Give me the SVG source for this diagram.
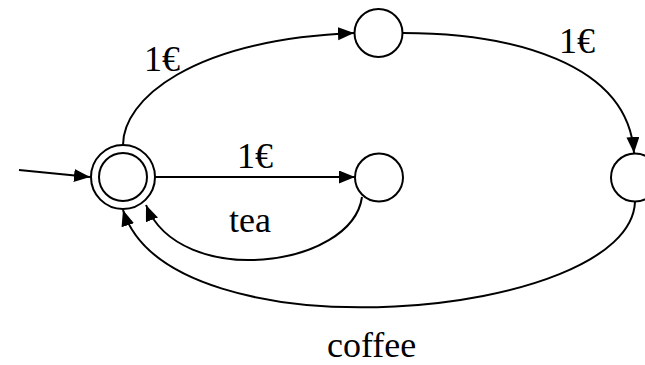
<svg xmlns="http://www.w3.org/2000/svg" width="645" height="365" viewBox="0 0 645 365">
<style>
.node{fill:#fff;stroke:#000;stroke-width:2}
.edge{fill:none;stroke:#000;stroke-width:2}
.lbl{font-family:'Liberation Serif','Times New Roman',serif;font-size:36px;fill:#000}
</style>
<defs>
<marker id="arr" markerUnits="userSpaceOnUse" markerWidth="17" markerHeight="14" refX="16" refY="6.5" orient="auto">
<path d="M0,0 L16,6.5 L0,13 z" fill="#000"/>
</marker>
</defs>
<g id="connectors">
<path class="edge" d="M19,170 L90,177" marker-end="url(#arr)"/>
<path class="edge" d="M123,145 C123,100 190,40 354,33" marker-end="url(#arr)"/>
<path class="edge" d="M403,33 C510,33 628,62 634,153" marker-end="url(#arr)"/>
<path class="edge" d="M155,177 L355,177" marker-end="url(#arr)"/>
<path class="edge" d="M362,197 C352,268 180,290 146,205" marker-end="url(#arr)"/>
<path class="edge" d="M635,202 C630,320 170,360 123,210" marker-end="url(#arr)"/>
</g>
<g id="s0">
<circle class="node" cx="123" cy="177" r="32"/>
<circle class="node" cx="123" cy="177" r="24"/>
</g>
<g id="s1"><circle class="node" cx="378.5" cy="33" r="24"/></g>
<g id="s2"><circle class="node" cx="379" cy="177.5" r="24"/></g>
<g id="s3"><circle class="node" cx="635" cy="177.5" r="24"/></g>
<g id="labels">
<text class="lbl" x="144" y="71">1€</text>
<text class="lbl" x="237" y="168">1€</text>
<text class="lbl" x="559" y="53">1€</text>
<text class="lbl" x="229" y="232">tea</text>
<text class="lbl" x="327" y="357">coffee</text>
</g>
</svg>
